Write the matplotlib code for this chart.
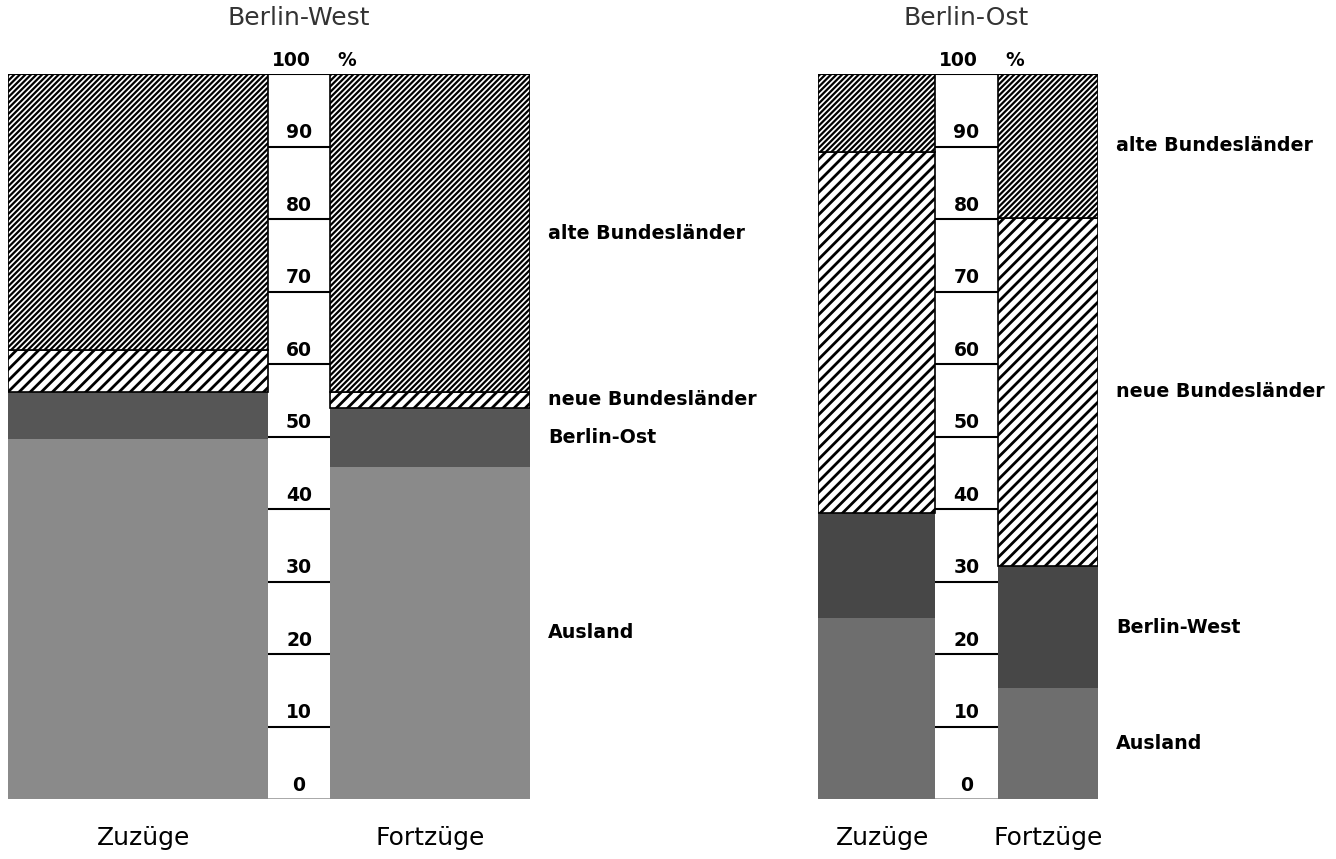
import matplotlib
matplotlib.use('Agg')
import matplotlib.pyplot as plt

plt.rcParams['font.family'] = ['DejaVu Sans']

# Anteile in % (von unten nach oben gestapelt)
west_cats = ['Ausland', 'Berlin-Ost', 'neue Bundesländer', 'alte Bundesländer']
west_zuzuege = [49.7, 6.4, 5.8, 38.1]
west_fortzuege = [45.8, 8.2, 2.1, 43.9]

ost_cats = ['Ausland', 'Berlin-West', 'neue Bundesländer', 'alte Bundesländer']
ost_zuzuege = [24.9, 14.5, 49.8, 10.8]
ost_fortzuege = [15.3, 16.8, 48.1, 19.8]

scale_ticks = [0, 10, 20, 30, 40, 50, 60, 70, 80, 90]
bar_labels = ['Zuzüge', 'Fortzüge']


def draw_panel(ax, title, cats, zu, fort, w_zu, w_col, w_fort, colors):
    hatch_styles = [None, None, '///', '//////']
    hatch_lw = [0, 0, 2.0, 1.6]
    col_left = w_zu
    col_right = w_zu + w_col
    for vals, x0, w in [(zu, 0, w_zu), (fort, col_right, w_fort)]:
        bottom = 0
        for i, v in enumerate(vals):
            if hatch_styles[i]:
                bars = ax.bar(x0, v, width=w, bottom=bottom, align='edge',
                              facecolor='white', edgecolor='black',
                              hatch=hatch_styles[i], linewidth=1.2)
                for b in bars:
                    if hasattr(b, 'set_hatch_linewidth'):
                        b.set_hatch_linewidth(hatch_lw[i])
            else:
                ax.bar(x0, v, width=w, bottom=bottom, align='edge',
                       color=colors[i], linewidth=0)
            bottom += v

    # Skala in der Mitte
    ax.hlines([t for t in scale_ticks if t > 0], col_left, col_right,
              color='black', linewidth=1.5)
    ax.hlines(100, 0, col_right + w_fort, color='black', linewidth=1.5)
    ax.hlines(0, col_left, col_right, color='#999999', linewidth=1.2)
    mid = (col_left + col_right) / 2
    for t in scale_ticks:
        ax.text(mid, t + 0.6, str(t), ha='center', va='bottom',
                fontsize=13.5, fontweight='bold')
    ax.text(mid - 8, 100.6, '100', ha='center', va='bottom',
            fontsize=13.5, fontweight='bold')
    ax.text(col_right + 17, 100.6, '%', ha='center', va='bottom',
            fontsize=13.5, fontweight='bold')

    # Beschriftungen rechts, jeweils Mitte des Fortzüge-Segments
    bottom = 0
    for c, v in zip(cats, fort):
        ax.text(col_right + w_fort + 18, bottom + v / 2, c, ha='left',
                va='center', fontsize=13.7, fontweight='bold')
        bottom += v

    ax.text(mid, 107.7, title, ha='center', va='center', fontsize=18,
            color='#333333')
    ax.text(w_zu / 2 + 6, -5.4, bar_labels[0], ha='center', va='center',
            fontsize=18)
    ax.text(col_right + w_fort / 2, -5.4, bar_labels[1], ha='center',
            va='center', fontsize=18)

    ax.set_xlim(0, w_zu + w_col + w_fort)
    ax.set_ylim(0, 100)
    ax.axis('off')


fig = plt.figure(figsize=(13.36, 8.59), dpi=100)
W, H = 1336, 859
ax1 = fig.add_axes([8 / W, 60 / H, 522 / W, 725 / H])
ax2 = fig.add_axes([818 / W, 60 / H, 280 / W, 725 / H])

draw_panel(ax1, 'Berlin-West', west_cats, west_zuzuege, west_fortzuege,
           260, 62, 200, ['#8a8a8a', '#565656'])
draw_panel(ax2, 'Berlin-Ost', ost_cats, ost_zuzuege, ost_fortzuege,
           117, 63, 100, ['#6e6e6e', '#474747'])

fig.savefig('out.png', dpi=100)
